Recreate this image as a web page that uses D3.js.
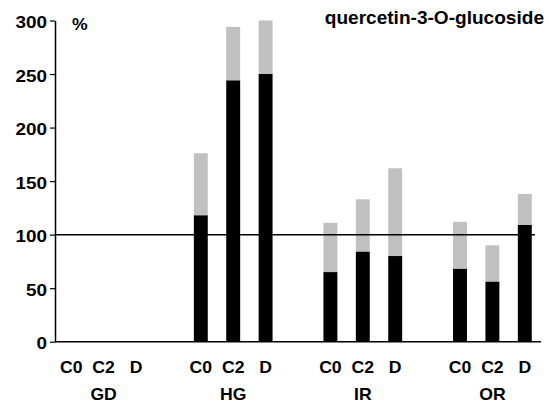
<!DOCTYPE html>
<html>
<head>
<meta charset="utf-8">
<script src="https://cdn.jsdelivr.net/npm/d3@7"></script>
<style>
  body { margin: 0; background: #fff; }
  text { font-family: "Liberation Sans", Arial, sans-serif; font-weight: bold; fill: #000; }
</style>
</head>
<body>
<script>
// data (black = mean part, gray reaches up to the upper value)
var groups = ["GD", "HG", "IR", "OR"];
var conditions = ["C0", "C2", "D"];
var meanValues = {
  GD: [0, 0, 0],
  HG: [118, 244, 250],
  IR: [65, 84, 80],
  OR: [68, 56, 109]
};
var upperValues = {
  GD: [0, 0, 0],
  HG: [176, 294, 300],
  IR: [111, 133, 162],
  OR: [112, 90, 138]
};
var yTicks = [0, 50, 100, 150, 200, 250, 300];
var refValue = 100;
var title = "quercetin-3-O-glucoside";
var unitLabel = "%";

var width = 549, height = 404;
// note: "top" is taken by window.top, so use plot* names
var plotLeft = 55, plotRight = 541, plotTop = 20.5, plotBottom = 341.7;

var svg = d3.select("body").append("svg")
    .attr("width", width)
    .attr("height", height);

var y = d3.scaleLinear().domain([0, 300]).range([plotBottom, plotTop]);

var xGroup = d3.scaleBand().domain(groups).range([plotLeft, plotRight])
    .paddingInner(0.25).paddingOuter(0);
var xCond = d3.scaleBand().domain(conditions).range([0, xGroup.bandwidth()])
    .paddingInner(0.57).paddingOuter(0.285);

var rows = [];
groups.forEach(function(g){
  conditions.forEach(function(c, i){
    rows.push({group: g, cond: c, mean: meanValues[g][i], upper: upperValues[g][i]});
  });
});

// gray part first, black on top of it
svg.append("g").selectAll("rect.upper")
  .data(rows.filter(function(d){ return d.upper > 0; }))
  .enter().append("rect")
    .attr("class", "upper")
    .attr("x", function(d){ return xGroup(d.group) + xCond(d.cond); })
    .attr("width", xCond.bandwidth())
    .attr("y", function(d){ return y(d.upper); })
    .attr("height", function(d){ return y(d.mean) - y(d.upper); })
    .style("fill", "#c0c0c0");

svg.append("g").selectAll("rect.mean")
  .data(rows.filter(function(d){ return d.mean > 0; }))
  .enter().append("rect")
    .attr("class", "mean")
    .attr("x", function(d){ return xGroup(d.group) + xCond(d.cond); })
    .attr("width", xCond.bandwidth())
    .attr("y", function(d){ return y(d.mean); })
    .attr("height", function(d){ return y(0) - y(d.mean); })
    .style("fill", "#000");

// reference line at 100
svg.append("line")
    .attr("x1", plotLeft).attr("x2", 535)
    .attr("y1", y(refValue)).attr("y2", y(refValue))
    .style("stroke", "#000").style("stroke-width", 1.5);

// x baseline
svg.append("line")
    .attr("x1", plotLeft).attr("x2", plotRight)
    .attr("y1", y(0)).attr("y2", y(0))
    .style("stroke", "#000").style("stroke-width", 1.5);

// y axis
var yAxis = d3.axisLeft(y).tickValues(yTicks).tickSize(5).tickSizeOuter(0).tickPadding(3);
var gy = svg.append("g")
    .attr("transform", "translate(" + plotLeft + ",0)")
    .call(yAxis);
gy.select(".domain").style("stroke-width", 1.5);
gy.selectAll(".tick line").style("stroke-width", 1.2);
gy.selectAll(".tick text")
    .attr("x", -8 / 1.18)
    .attr("dy", "0.45em")
    .attr("transform", "scale(1.18,1)")
    .style("font-size", "16px")
    .style("font-family", "'Liberation Sans', Arial, sans-serif")
    .style("font-weight", "bold");

// condition labels
svg.append("g").selectAll("text.cond")
  .data(rows)
  .enter().append("text")
    .attr("class", "cond")
    .attr("text-anchor", "middle")
    .attr("transform", function(d){
      var cx = xGroup(d.group) + xCond(d.cond) + xCond.bandwidth() / 2;
      return "translate(" + cx + ",373) scale(1.1,1)";
    })
    .style("font-size", "16px")
    .text(function(d){ return d.cond; });

// group labels
svg.append("g").selectAll("text.group")
  .data(groups)
  .enter().append("text")
    .attr("class", "group")
    .attr("text-anchor", "middle")
    .attr("transform", function(d){
      var cx = xGroup(d) + xCond("C2") + xCond.bandwidth() / 2;
      return "translate(" + cx + ",400) scale(1.1,1)";
    })
    .style("font-size", "16px")
    .text(function(d){ return d; });

svg.append("text")
    .attr("transform", "translate(72,30) scale(1.1,1)")
    .style("font-size", "16px")
    .text(unitLabel);

svg.append("text")
    .attr("text-anchor", "end")
    .attr("transform", "translate(544,24) scale(1.06,1)")
    .style("font-size", "18px")
    .text(title);
</script>
</body>
</html>
